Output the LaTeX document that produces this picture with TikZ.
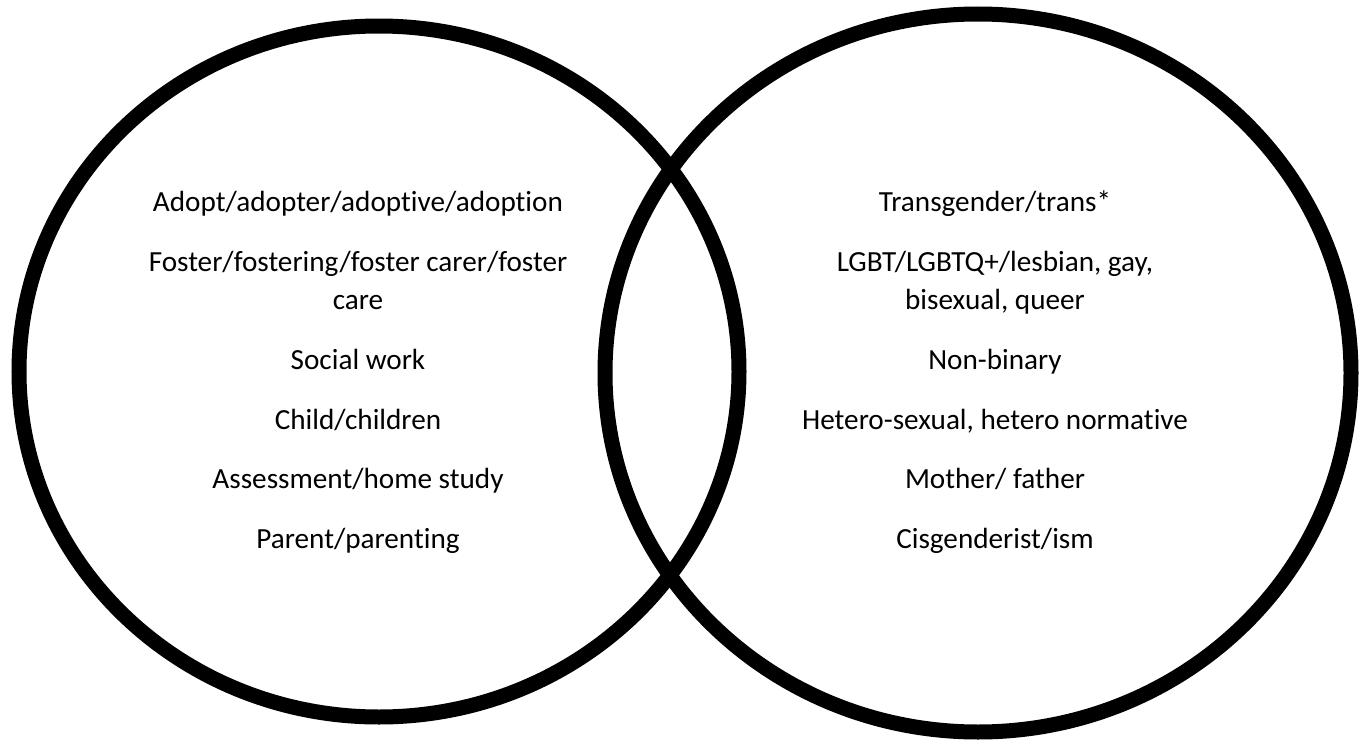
\documentclass[tikz,border=0pt]{standalone}
\usepackage{fontspec}
\setmainfont{Carlito}[Ligatures=CommonOff]
\usetikzlibrary{positioning}

\begin{document}
\begin{tikzpicture}[x=0.5pt,y=-0.5pt,
    ring/.style={line width=7.5pt},
    term/.style={font=\fontsize{14.6}{19}\selectfont, align=center, anchor=base, inner sep=0pt}]
            \useasboundingbox (0,0) rectangle (1367,744);
            % the two sets
            \draw[ring] (379,371.5) ellipse [x radius=360, y radius=345.5];
            \draw[ring] (978,373) ellipse [x radius=373, y radius=359];
            % left set (two-line nodes sit on their last line)
            \node[term] (adopt) at (358,211) {Adopt/adopter/adoptive/adoption};
            \node[term] (foster) at (358,309) {Foster/fostering/foster carer/foster\\care};
            \node[term] (social) at (358,369) {Social work};
            \node[term] (child) at (358,429) {Child/children};
            \node[term] (assess) at (358,488) {Assessment/home study};
            \node[term] (parent) at (358,548) {Parent/parenting};
            % right set
            \node[term] (trans) at (995,211) {Transgender/trans*};
            \node[term] (lgbt) at (995,309) {LGBT/LGBTQ+/lesbian, gay,\\bisexual, queer};
            \node[term] (nonbin) at (995,369) {Non-binary};
            \node[term] (hetero) at (995,429) {Hetero-sexual, hetero normative};
            \node[term] (mofa) at (995,488) {Mother/ father};
            \node[term] (cisg) at (995,548) {Cisgenderist/ism};
        \end{tikzpicture}
\end{document}
